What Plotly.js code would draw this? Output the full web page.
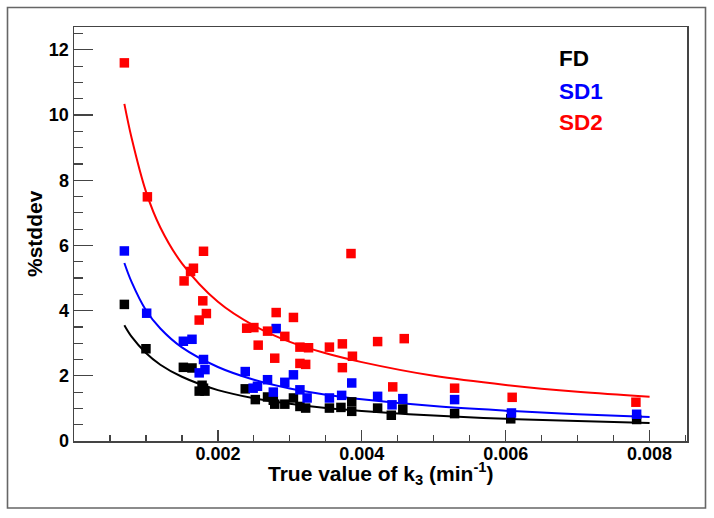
<!DOCTYPE html>
<html>
<head>
<meta charset="utf-8">
<script src="https://cdn.plot.ly/plotly-3.0.1.min.js"></script>
<style>
html,body{margin:0;padding:0;background:#fff;}
#chart{width:714px;height:518px;}
</style>
</head>
<body>
<div id="chart"></div>
<script>
// ---- data ----
const xFD  = [0.00070,0.00100,0.00152,0.00164,0.00178,0.00174,0.00182,0.00180,0.00238,0.00252,0.00269,0.00277,0.00279,0.00293,0.00305,0.00314,0.00322,0.00355,0.00371,0.00386,0.00386,0.00422,0.00441,0.00457,0.00529,0.00607,0.00782];
const yFD  = [4.19,2.83,2.26,2.24,1.71,1.53,1.53,1.62,1.60,1.27,1.35,1.25,1.13,1.13,1.32,1.06,1.01,1.01,1.03,1.20,0.91,1.01,0.79,0.98,0.84,0.68,0.66];

const xSD1 = [0.00070,0.00101,0.00152,0.00164,0.00180,0.00182,0.00174,0.00238,0.00281,0.00249,0.00255,0.00269,0.00277,0.00293,0.00305,0.00314,0.00324,0.00355,0.00372,0.00386,0.00422,0.00442,0.00457,0.00529,0.00608,0.00782];
const ySD1 = [5.83,3.92,3.06,3.12,2.50,2.19,2.09,2.13,3.45,1.62,1.68,1.88,1.50,1.80,2.03,1.57,1.32,1.32,1.40,1.78,1.37,1.11,1.30,1.27,0.86,0.82];

const xSD2 = [0.00070,0.00102,0.00153,0.00162,0.00166,0.00174,0.00179,0.00180,0.00184,0.00240,0.00250,0.00256,0.00269,0.00279,0.00281,0.00293,0.00305,0.00314,0.00314,0.00322,0.00326,0.00355,0.00373,0.00373,0.00385,0.00387,0.00422,0.00443,0.00459,0.00529,0.00609,0.00781];
const ySD2 = [11.6,7.49,4.91,5.20,5.30,3.71,4.30,5.82,3.91,3.46,3.48,2.94,3.37,2.54,3.94,3.21,3.79,2.88,2.38,2.35,2.86,2.88,2.98,2.25,5.75,2.60,3.05,1.66,3.14,1.62,1.34,1.19];

// fitted curves, points
const xCurve   = [0.0007,0.0008,0.0010,0.0012,0.0015,0.0020,0.0025,0.0030,0.0035,0.0040,0.0050,0.0060,0.0070,0.0080];
const fitFD    = [3.55,3.20,2.70,2.34,1.97,1.56,1.31,1.14,1.01,0.92,0.78,0.68,0.61,0.55];
const fitSD1   = [5.46,4.88,4.01,3.45,2.87,2.27,1.88,1.61,1.42,1.28,1.07,0.93,0.82,0.74];
const fitSD2   = [10.34,9.30,7.65,6.55,5.45,4.27,3.54,3.04,2.69,2.42,2.00,1.72,1.51,1.36];

const seriesNames = ["FD","SD1","SD2"];
const xTickVals = [0.002,0.004,0.006,0.008];
const xTickText = ["0.002","0.004","0.006","0.008"];
const yTickVals = [0,2,4,6,8,10,12];
const yTickText = ["0","2","4","6","8","10","12"];

// ---- styling / layout ----
const W = 714, H = 518;
const M = {l:74, r:27, t:27, b:77};
const PW = W - M.l - M.r, PH = H - M.t - M.b;
const px2x = p => (p - M.l) / PW;
const py2y = p => (H - M.b - p) / PH;

const FONT = "Liberation Sans, Arial, Helvetica, sans-serif";
const colors = ["#000000","#0000ff","#ff0000"];
const xs = [xFD, xSD1, xSD2], ys = [yFD, ySD1, ySD2], fits = [fitFD, fitSD1, fitSD2];

const traces = [];
for (let i = 0; i < 3; i++) {
  traces.push({
    x: xCurve, y: fits[i], mode: "lines", type: "scatter",
    line: {color: colors[i], width: 2, shape: "spline", smoothing: 1},
    hoverinfo: "skip", showlegend: false
  });
}
for (let i = 0; i < 3; i++) {
  traces.push({
    x: xs[i], y: ys[i], mode: "markers", type: "scatter", name: seriesNames[i],
    marker: {symbol: "square", size: 9.5, color: colors[i], line: {width: 0}},
    showlegend: false
  });
}

const legendY = [58.7, 91.7, 122];
const annotations = seriesNames.map((n, i) => ({
  text: "<b>" + n + "</b>", xref: "paper", yref: "paper",
  x: px2x(557), y: py2y(legendY[i]), xanchor: "left", yanchor: "middle",
  showarrow: false, font: {family: FONT, size: 22.5, color: colors[i]}
}));
annotations.push({
  text: "<b>True value of k<sub>3</sub> (min<sup>-1</sup>)</b>",
  xref: "paper", yref: "paper", x: px2x(381), y: py2y(474),
  xanchor: "center", yanchor: "middle", showarrow: false,
  font: {family: FONT, size: 21, color: "#000"}
});
annotations.push({
  text: "<b>%stddev</b>", textangle: -90,
  xref: "paper", yref: "paper", x: px2x(34), y: py2y(234),
  xanchor: "center", yanchor: "middle", showarrow: false,
  font: {family: FONT, size: 21, color: "#000"}
});

const layout = {
  width: W, height: H, margin: M,
  paper_bgcolor: "#fff", plot_bgcolor: "#fff",
  showlegend: false,
  font: {family: FONT, color: "#000"},
  xaxis: {
    range: [0, 0.00852], showgrid: false, zeroline: false,
    showline: true, linecolor: "#444", linewidth: 1.5, mirror: true,
    ticks: "inside", ticklen: 11, tickwidth: 1.2, tickcolor: "#444",
    tickvals: xTickVals, ticktext: xTickText, ticklabelstandoff: -4,
    tickfont: {family: FONT, size: 18, weight: 700, color: "#000"},
    minor: {dtick: 0.0005, tick0: 0, ticks: "inside", ticklen: 6, tickwidth: 1.2, tickcolor: "#444", showgrid: false}
  },
  yaxis: {
    range: [0, 12.7], showgrid: false, zeroline: false,
    showline: true, linecolor: "#444", linewidth: 1.5, mirror: true,
    ticks: "inside", ticklen: 19, tickwidth: 1.2, tickcolor: "#444",
    tickvals: yTickVals, ticktext: yTickText,
    tickfont: {family: FONT, size: 18, weight: 700, color: "#000"},
    minor: {dtick: 0.5, tick0: 0, ticks: "inside", ticklen: 9, tickwidth: 1.2, tickcolor: "#444", showgrid: false}
  },
  annotations: annotations,
  shapes: [{
    type: "rect", xref: "paper", yref: "paper",
    x0: px2x(7.5), x1: px2x(705.5), y0: py2y(508), y1: py2y(7.5),
    line: {color: "#666", width: 1.6}, fillcolor: "rgba(0,0,0,0)", layer: "below"
  }]
};

Plotly.newPlot("chart", traces, layout, {staticPlot: true, displayModeBar: false});
</script>
</body>
</html>
